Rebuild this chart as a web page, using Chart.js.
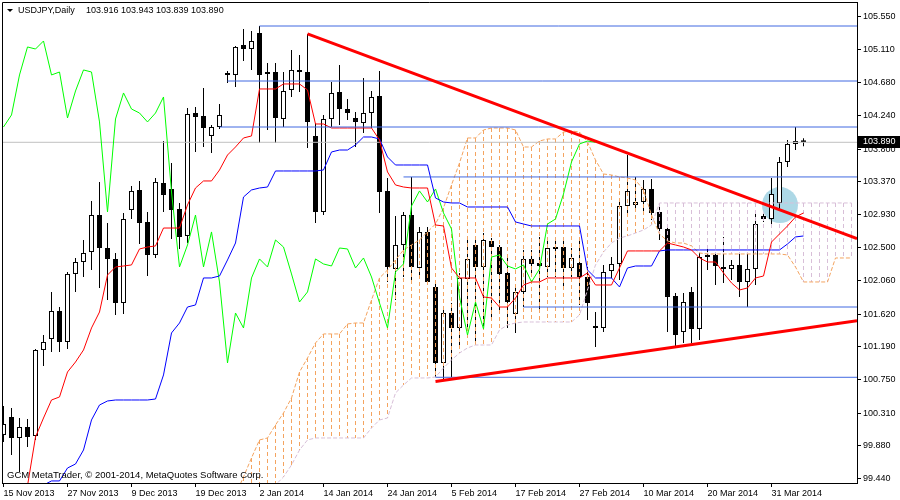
<!DOCTYPE html>
<html>
<head>
<meta charset="utf-8">
<title>USDJPY Daily</title>
<script src="https://cdn.jsdelivr.net/npm/chart.js@4.4.1/dist/chart.umd.min.js"></script>
<style>
  html, body { margin: 0; padding: 0; background: #fff; }
  #chart { display: block; }
</style>
</head>
<body>
<canvas id="chart" width="900" height="500"></canvas>
<script>
// daily bars, 15 Nov 2013 .. 3 Apr 2014 (bar index 0..100)
const opens = [
  100.022, 100.260, 99.982, 100.127, 100.008, 101.145, 101.290, 101.660, 101.251, 102.150,
  102.308, 102.440, 102.929, 102.493, 102.348, 101.766, 102.995, 103.260, 102.837, 102.401,
  103.352, 103.273, 103.009, 102.652, 104.277, 104.238, 103.974, 104.092, 104.793, 104.780,
  105.176, 105.123, 105.335, 104.793, 104.819, 104.198, 104.582, 104.846, 104.819, 103.974,
  102.969, 104.198, 104.555, 104.330, 104.211, 104.145, 104.277, 104.502, 103.247, 102.216,
  102.533, 102.929, 102.229, 102.705, 101.978, 100.973, 101.634, 101.436, 102.083, 102.533,
  102.242, 102.586, 102.506, 102.163, 101.621, 101.912, 102.348, 102.295, 102.242, 102.493,
  102.506, 102.229, 102.295, 102.110, 101.449, 101.436, 102.189, 102.282, 103.048, 103.062,
  103.101, 103.273, 102.969, 102.744, 101.859, 101.383, 101.912, 101.423, 102.374, 102.401,
  102.242, 102.216, 102.269, 102.044, 102.216, 102.916, 102.876, 103.088, 103.630, 103.868, 103.916
];
const highs = [
  100.405, 100.378, 100.246, 100.233, 101.158, 101.343, 101.912, 101.713, 102.176, 102.361,
  102.599, 103.114, 103.366, 102.824, 102.427, 102.956, 103.313, 103.379, 102.969, 103.418,
  103.907, 103.617, 103.088, 104.344, 104.357, 104.608, 104.119, 104.396, 104.833, 105.163,
  105.388, 105.361, 105.427, 104.938, 104.938, 104.819, 105.110, 105.044, 105.322, 104.145,
  104.251, 104.687, 104.912, 104.462, 104.291, 104.740, 104.568, 104.833, 103.418, 102.916,
  102.969, 103.432, 102.771, 102.771, 102.044, 101.713, 101.766, 102.163, 102.599, 102.639,
  102.691, 102.625, 102.533, 102.401, 101.978, 102.467, 102.467, 102.639, 102.625, 102.625,
  102.625, 102.493, 102.599, 102.242, 101.647, 102.269, 102.374, 103.154, 103.722, 103.432,
  103.392, 103.405, 103.088, 102.771, 101.898, 101.898, 101.978, 102.440, 102.506, 102.427,
  102.639, 102.335, 102.440, 102.440, 102.943, 102.943, 103.418, 103.696, 103.921, 104.092, 103.943
];
const lows = [
  99.929, 99.757, 99.533, 99.863, 99.956, 100.934, 101.119, 101.119, 101.158, 101.912,
  102.110, 102.202, 101.965, 101.806, 101.608, 101.621, 102.876, 102.546, 102.123, 102.361,
  102.969, 102.612, 102.480, 102.559, 103.762, 103.828, 103.749, 104.066, 104.674, 104.621,
  104.965, 104.846, 103.881, 104.053, 103.881, 104.092, 104.489, 104.555, 103.815, 102.824,
  102.929, 104.092, 104.119, 104.185, 103.828, 104.013, 104.079, 102.956, 102.044, 101.806,
  102.110, 102.031, 102.097, 102.004, 100.788, 100.749, 100.788, 101.211, 101.409, 101.211,
  101.436, 101.581, 101.647, 101.436, 101.370, 101.713, 102.136, 101.674, 102.110, 102.110,
  101.978, 102.110, 101.740, 101.542, 101.185, 101.383, 102.097, 102.070, 102.956, 102.995,
  102.956, 102.863, 102.599, 101.383, 101.185, 101.238, 101.238, 101.277, 102.202, 102.004,
  102.031, 102.070, 101.846, 101.713, 102.004, 102.837, 102.797, 102.995, 103.564, 103.788, 103.839
];
const closes = [
  100.167, 99.982, 100.127, 99.995, 101.145, 101.251, 101.660, 101.251, 102.150, 102.308,
  102.427, 102.929, 102.493, 102.348, 101.766, 102.876, 103.247, 102.824, 102.401, 103.366,
  103.194, 102.995, 102.639, 104.264, 104.225, 104.079, 104.092, 104.251, 104.780, 105.150,
  105.123, 105.229, 104.780, 104.819, 104.211, 104.568, 104.846, 104.819, 104.159, 102.969,
  104.198, 104.542, 104.330, 104.277, 104.159, 104.277, 104.489, 103.233, 102.242, 102.533,
  102.929, 102.242, 102.705, 102.044, 100.973, 101.634, 101.436, 102.097, 102.348, 102.242,
  102.599, 102.506, 102.150, 101.779, 101.912, 102.348, 102.282, 102.255, 102.493, 102.480,
  102.229, 102.361, 102.110, 101.766, 101.436, 102.176, 102.282, 103.048, 103.247, 103.101,
  103.273, 102.956, 102.744, 101.846, 101.343, 101.779, 101.423, 102.374, 102.401, 102.255,
  102.216, 102.269, 102.044, 102.216, 102.810, 102.876, 103.207, 103.630, 103.868, 103.907, 103.890
];

// Ichimoku lines
const tenkanStart = 3;
const tenkan = [
  99.35, 99.995, 100.246, 100.484, 100.524, 100.854, 100.986,
  101.145, 101.436, 101.647, 102.136, 102.242, 102.255, 102.269, 102.480, 102.506, 102.520,
  102.757, 102.757, 102.757, 103.062, 103.286, 103.379, 103.379, 103.524, 103.722, 103.828,
  103.947, 103.974, 104.595, 104.595, 104.595, 104.661, 104.661, 104.661, 104.582, 104.132,
  104.132, 104.079, 104.079, 104.079, 104.079, 104.079, 104.079, 103.921, 103.498, 103.326,
  103.299, 103.286, 103.286, 103.286, 102.797, 102.784, 102.229, 102.097, 102.097, 102.097,
  101.846, 101.832, 101.713, 101.713, 101.832, 102.004, 102.044, 102.044, 102.097, 102.097,
  102.097, 102.097, 102.097, 102.163, 102.004, 102.004, 102.004, 102.229, 102.454, 102.454,
  102.454, 102.454, 102.454, 102.559, 102.533, 102.506, 102.467, 102.361, 102.308, 102.308,
  102.163, 102.031, 101.938, 101.965, 102.097, 102.123, 102.572, 102.678, 102.784, 102.903, 102.956
];
const kijunStart = 5;
const kijun = [
  99.36, 99.414, 99.414, 99.585, 99.638,
  99.823, 100.220, 100.418, 100.471, 100.484, 100.484, 100.484, 100.484, 100.484, 100.497,
  100.815, 101.370, 101.502, 101.713, 101.740, 102.097, 102.097, 102.123, 102.335, 102.559,
  103.167, 103.260, 103.286, 103.299, 103.511, 103.511, 103.511, 103.511, 103.511, 103.511,
  103.524, 103.762, 103.788, 103.788, 103.855, 103.960, 103.960, 103.934, 103.696, 103.590,
  103.590, 103.590, 103.590, 103.590, 103.154, 103.101, 103.088, 103.088, 103.035, 103.035,
  103.035, 103.035, 103.035, 103.035, 102.837, 102.810, 102.784, 102.784, 102.784, 102.784,
  102.784, 102.784, 102.784, 102.202, 102.097, 102.097, 102.097, 101.978, 102.229, 102.255,
  102.255, 102.255, 102.454, 102.467, 102.467, 102.467, 102.467, 102.467, 102.467, 102.467,
  102.467, 102.467, 102.467, 102.467, 102.467, 102.467, 102.467, 102.467, 102.546, 102.639, 102.652
];
const chikouShift = 26;
const spanStart = 29;
const spanA = [
  99.23,
  99.467, 99.718, 99.956, 99.982, 100.154, 100.312, 100.511, 100.854, 101.039, 101.238,
  101.357, 101.357, 101.357, 101.489, 101.502, 101.502, 101.806, 102.097, 102.202, 102.335,
  102.467, 102.533, 102.599, 102.705, 102.810, 103.022, 103.326, 103.617, 103.947, 103.947,
  104.053, 104.079, 104.079, 104.079, 104.053, 103.828, 103.828, 103.907, 103.934, 103.934,
  104.026, 104.040, 104.026, 103.894, 103.656, 103.471, 103.458, 103.432, 103.418, 103.392,
  103.260, 102.929, 102.678, 102.586, 102.559, 102.559, 102.520, 102.427, 102.414, 102.414,
  102.414, 102.414, 102.414, 102.414, 102.414, 102.414, 102.414, 102.414, 102.401, 102.242,
  102.044, 102.044, 102.044, 102.044, 102.361, 102.361, 102.361
];
const spanB = [
  99.10, 99.15, 99.20, 99.25, 99.30,
  99.361, 99.467, 99.625, 99.823, 99.956, 99.982,
  99.982, 99.982, 99.982, 99.982, 99.982, 99.982, 100.114, 100.220, 100.246, 100.577,
  100.682, 100.775, 100.775, 100.775, 100.788, 100.907, 101.013, 101.105, 101.172, 101.211,
  101.211, 101.211, 101.409, 101.475, 101.502, 101.515, 101.515, 101.515, 101.515, 101.515,
  101.515, 101.515, 101.608, 101.938, 102.269, 102.440, 102.559, 102.625, 102.652, 102.691,
  102.731, 102.797, 103.088, 103.088, 103.088, 103.088, 103.088, 103.088, 103.088, 103.088,
  103.088, 103.088, 103.088, 103.088, 103.088, 103.088, 103.088, 103.088, 103.088, 103.088,
  103.088, 103.088, 103.088, 103.088, 103.088, 103.088, 103.088
];

// drawn objects
const levels = [105.427, 104.700, 104.092, 103.432, 101.713, 100.784];
const levelStart = [32, 28, 27, 50, 65, 54];
const trendDown = [{x: 38, y: 105.322}, {x: 106.6875, y: 102.616}];
const trendUp = [{x: 54, y: 100.727}, {x: 106.6875, y: 101.532}];
const marker = [{x: 97.06, y: 103.06}];
const MARKER_R = 18;

// axes
const yTicks = [105.55, 105.11, 104.68, 104.24, 103.80, 103.37, 102.93, 102.50,
                102.06, 101.62, 101.19, 100.75, 100.31, 99.88, 99.44];
const xTickBars = [0, 8, 16, 24, 32, 40, 48, 56, 64, 72, 80, 88, 96];
const xTickLabels = ['15 Nov 2013', '27 Nov 2013', '9 Dec 2013', '19 Dec 2013', '2 Jan 2014',
  '14 Jan 2014', '24 Jan 2014', '5 Feb 2014', '17 Feb 2014', '27 Feb 2014',
  '10 Mar 2014', '20 Mar 2014', '31 Mar 2014'];

const X_MIN = -0.1875, X_MAX = 106.6875;
const Y_MIN = 99.3869, Y_MAX = 105.7443;
const last = closes.length - 1;

const series = (arr, start) => arr.map((v, k) => ({x: start + k, y: v}));
const isUp = i => closes[i] >= opens[i];

const lineSet = (data, color, order, extra) => Object.assign({
  type: 'line', data, borderColor: color, borderWidth: 1,
  pointRadius: 0, tension: 0, fill: false, order
}, extra || {});

const BODY_INDEX = 4;
const datasets = [
  lineSet(series(spanA, spanStart), '#F4A460', 10.5, {borderDash: [4, 2]}),
  lineSet(series(spanB, spanStart), '#D8BFD8', 10.4, {borderDash: [4, 2]}),
  lineSet(marker, '#ADD8E6', 15, {
    showLine: false, pointRadius: MARKER_R, pointBackgroundColor: '#ADD8E6', pointBorderWidth: 0
  }),
  {
    type: 'bar', order: 12,
    data: closes.map((c, i) => ({x: i, y: [lows[i], highs[i]]})),
    backgroundColor: '#000', borderWidth: 0,
    barThickness: 1, maxBarThickness: 1, grouped: false, inflateAmount: 0
  },
  {
    type: 'bar', order: 11,
    data: closes.map((c, i) => ({x: i, y: [opens[i], c]})),
    backgroundColor: c => isUp(c.dataIndex) ? '#fff' : '#000',
    borderColor: '#000', borderWidth: 1, borderSkipped: false,
    barThickness: 5, maxBarThickness: 5, grouped: false, inflateAmount: 0, minBarLength: 2
  },
  lineSet([{x: X_MIN, y: closes[last]}, {x: X_MAX, y: closes[last]}], '#C0C0C0', 9),
  lineSet(series(closes.slice(chikouShift), 0), '#00FF00', 8),
  lineSet(series(kijun, kijunStart), '#0000FF', 7),
  lineSet(series(tenkan, tenkanStart), '#FF0000', 6)
];
levels.forEach((lv, k) => {
  datasets.push(lineSet([{x: levelStart[k], y: lv}, {x: X_MAX, y: lv}], '#4169E1', 4));
});
datasets.push(lineSet(trendDown, '#FF0000', 2, {borderWidth: 3}));
datasets.push(lineSet(trendUp, '#FF0000', 2, {borderWidth: 3}));

// kumo: one dashed vertical stroke per bar between span A and span B,
// painted over the candles but kept off the filled marker circle
const cloudHatch = {
  id: 'cloudHatch',
  afterDatasetDraw(chart, args) {
    if (args.index !== BODY_INDEX) return;
    const c = chart.ctx, a = chart.chartArea, x = chart.scales.x, y = chart.scales.y;
    c.save();
    c.beginPath();
    c.rect(a.left, a.top, a.right - a.left, a.bottom - a.top);
    c.arc(x.getPixelForValue(marker[0].x), y.getPixelForValue(marker[0].y), MARKER_R, 0, Math.PI * 2);
    c.clip('evenodd');
    c.lineWidth = 1;
    c.setLineDash([4, 3]);
    spanA.forEach((va, k) => {
      const vb = spanB[k];
      const px = x.getPixelForValue(spanStart + k);
      c.strokeStyle = va >= vb ? '#F4A460' : '#D8BFD8';
      c.beginPath();
      c.moveTo(px, Math.round(y.getPixelForValue(Math.max(va, vb))));
      c.lineTo(px, Math.round(y.getPixelForValue(Math.min(va, vb))));
      c.stroke();
    });
    c.restore();
  }
};

const overlay = {
  id: 'overlay',
  beforeDraw(chart) {
    const c = chart.ctx;
    c.save();
    c.fillStyle = '#fff';
    c.fillRect(0, 0, chart.width, chart.height);
    c.restore();
  },
  afterDraw(chart) {
    const c = chart.ctx, a = chart.chartArea, y = chart.scales.y;
    c.save();
    c.strokeStyle = '#000';
    c.lineWidth = 1;
    c.beginPath();
    c.moveTo(a.left + 0.5, a.bottom);
    c.lineTo(a.left + 0.5, a.top + 0.5);
    c.lineTo(a.right, a.top + 0.5);
    c.stroke();

    c.font = '9px "Liberation Sans", Arial, sans-serif';
    c.textBaseline = 'middle';
    c.fillStyle = '#000';
    c.beginPath();
    c.moveTo(7, 9); c.lineTo(13, 9); c.lineTo(10, 12); c.closePath();
    c.fill();
    c.fillText('USDJPY,Daily', 18, 11);
    c.fillText([opens[last], highs[last], lows[last], closes[last]].map(v => v.toFixed(3)).join(' '), 86, 11);
    c.font = '9.5px "Liberation Sans", Arial, sans-serif';
    c.fillText('GCM MetaTrader, \u00A9 2001-2014, MetaQuotes Software Corp.', 7, 475);

    c.font = '9px "Liberation Sans", Arial, sans-serif';
    const py = Math.round(y.getPixelForValue(closes[last]));
    c.fillStyle = '#000';
    c.fillRect(a.right + 1, py - 6, 42, 12);
    c.fillStyle = '#fff';
    c.fillText(closes[last].toFixed(3), a.right + 6, py);
    c.restore();
  }
};

Chart.defaults.font.family = '"Liberation Sans", Arial, sans-serif';
Chart.defaults.font.size = 9;
Chart.defaults.color = '#000';

new Chart(document.getElementById('chart'), {
  type: 'bar',
  data: {datasets},
  options: {
    responsive: false,
    animation: false,
    devicePixelRatio: 1,
    events: [],
    layout: {autoPadding: false, padding: {left: 2, top: 2, right: 0, bottom: 0}},
    plugins: {legend: {display: false}, tooltip: {enabled: false}},
    scales: {
      x: {
        type: 'linear', min: X_MIN, max: X_MAX, offset: false,
        afterBuildTicks: s => { s.ticks = xTickBars.map(v => ({value: v})); },
        afterFit: s => { s.height = 17; s.paddingLeft = 0; s.paddingRight = 0; },
        ticks: {autoSkip: false, maxRotation: 0, minRotation: 0, align: 'start', padding: 1,
                callback: (v, i) => xTickLabels[i]},
        grid: {drawOnChartArea: false, drawTicks: true, tickLength: 4, tickColor: '#000', offset: false},
        border: {display: true, color: '#000'}
      },
      y: {
        type: 'linear', position: 'right', min: Y_MIN, max: Y_MAX,
        afterBuildTicks: s => { s.ticks = yTicks.map(v => ({value: v})); },
        afterFit: s => { s.width = 43; s.paddingTop = 0; s.paddingBottom = 0; },
        ticks: {autoSkip: false, padding: 2, callback: v => v.toFixed(3)},
        grid: {drawOnChartArea: false, drawTicks: true, tickLength: 4, tickColor: '#000'},
        border: {display: true, color: '#000'}
      }
    }
  },
  plugins: [cloudHatch, overlay]
});
</script>
</body>
</html>
